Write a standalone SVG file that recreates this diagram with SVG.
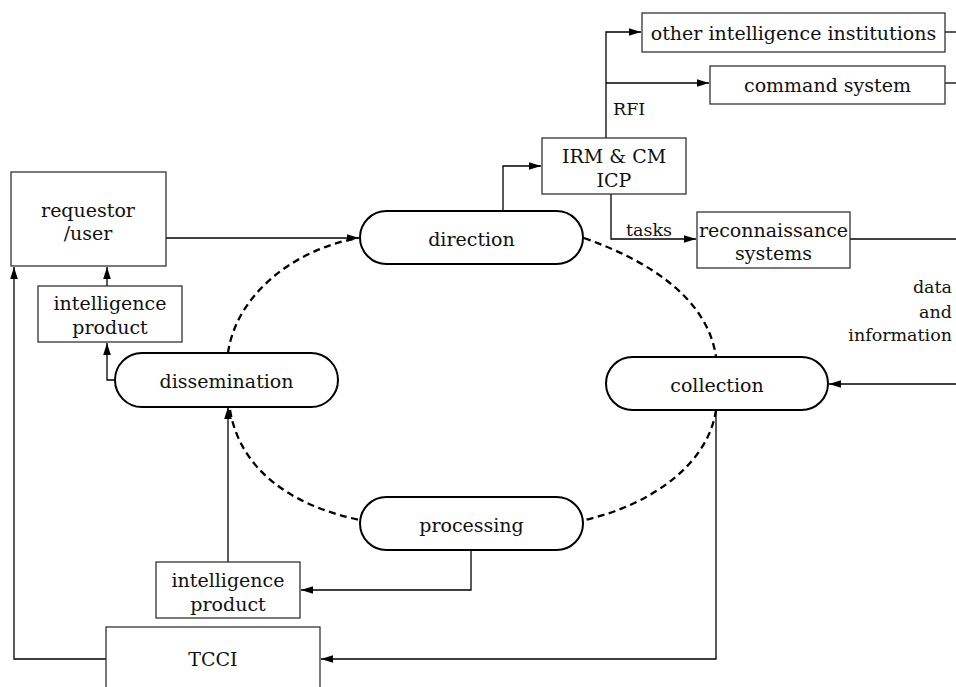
<svg xmlns="http://www.w3.org/2000/svg" width="956" height="687" viewBox="0 0 956 687">
<defs>
<marker id="arr" markerUnits="userSpaceOnUse" markerWidth="12" markerHeight="10" viewBox="0 0 12 10" refX="12" refY="5" orient="auto">
<path d="M0,1.2 L12,5 L0,8.8 Z" fill="#000"/>
</marker>
<style>
.box{fill:#fff;stroke:#333;stroke-width:1.3}
.pill{fill:#fff;stroke:#000;stroke-width:2}
.t{font-family:'DejaVu Serif','Liberation Serif',serif;font-size:19px;fill:#111;text-anchor:middle}
.l{font-family:'DejaVu Serif','Liberation Serif',serif;font-size:17.5px;fill:#111}
.c{fill:none;stroke:#000;stroke-width:1.3}
.d{fill:none;stroke:#000;stroke-width:2.3;stroke-dasharray:7 4.5}
</style>
</defs>
<rect width="956" height="687" fill="#fff"/>
<g id="cycle">
<path class="d" d="M228,353 C236,296 292,250 358,238"/>
<path class="d" d="M584,238 C652,262 708,300 716,357"/>
<path class="d" d="M716,410 C708,465 650,505 585,520"/>
<path class="d" d="M230,410 C240,470 292,506 360,520"/>
</g>
<g id="connectors">
<path class="c" d="M166,238 H359" marker-end="url(#arr)"/>
<path class="c" d="M503,211 V166 H541" marker-end="url(#arr)"/>
<path class="c" d="M606,138 V32 H641" marker-end="url(#arr)"/>
<path class="c" d="M606,83 H709" marker-end="url(#arr)"/>
<path class="c" d="M945,32 H956"/>
<path class="c" d="M945,83 H956"/>
<path class="c" d="M611,194 V239 H696" marker-end="url(#arr)"/>
<path class="c" d="M850,239 H956"/>
<path class="c" d="M956,384 H829" marker-end="url(#arr)"/>
<path class="c" d="M716,410 V659 H321" marker-end="url(#arr)"/>
<path class="c" d="M471,550 V590 H301" marker-end="url(#arr)"/>
<path class="c" d="M228,562 V407" marker-end="url(#arr)"/>
<path class="c" d="M115,380 H107 V343" marker-end="url(#arr)"/>
<path class="c" d="M107,286 V267" marker-end="url(#arr)"/>
<path class="c" d="M106,659 H14 V267" marker-end="url(#arr)"/>
</g>
<g id="other-intelligence-institutions">
<rect class="box" x="642" y="13" width="303" height="39"/>
<text class="t" x="793.5" y="40">other intelligence institutions</text>
</g>
<g id="command-system">
<rect class="box" x="710" y="66" width="235" height="38"/>
<text class="t" x="827.5" y="92">command system</text>
</g>
<g id="rfi-label">
<text class="l" x="613" y="115">RFI</text>
</g>
<g id="irm-cm-icp">
<rect class="box" x="542" y="138" width="144" height="56"/>
<text class="t" x="614" y="163">IRM &amp; CM</text>
<text class="t" x="614" y="187">ICP</text>
</g>
<g id="tasks-label">
<text class="l" x="626" y="236">tasks</text>
</g>
<g id="reconnaissance-systems">
<rect class="box" x="697" y="212" width="153" height="56"/>
<text class="t" x="773.5" y="237">reconnaissance</text>
<text class="t" x="773.5" y="260">systems</text>
</g>
<g id="requestor-user">
<rect class="box" x="11" y="172" width="155" height="94"/>
<text class="t" x="88" y="217">requestor</text>
<text class="t" x="88" y="240">/user</text>
</g>
<g id="direction">
<rect class="pill" x="360" y="211" width="223" height="53" rx="26.5"/>
<text class="t" x="471.5" y="246">direction</text>
</g>
<g id="intelligence-product-1">
<rect class="box" x="38" y="286" width="144" height="56"/>
<text class="t" x="110" y="310">intelligence</text>
<text class="t" x="110" y="334">product</text>
</g>
<g id="dissemination">
<rect class="pill" x="115" y="353" width="223" height="54" rx="27"/>
<text class="t" x="226.5" y="388">dissemination</text>
</g>
<g id="collection">
<rect class="pill" x="606" y="357" width="222" height="53" rx="26.5"/>
<text class="t" x="717" y="392">collection</text>
</g>
<g id="data-information-label">
<text class="l" x="952" y="293" text-anchor="end">data</text>
<text class="l" x="952" y="318" text-anchor="end">and</text>
<text class="l" x="952" y="341" text-anchor="end">information</text>
</g>
<g id="processing">
<rect class="pill" x="360" y="497" width="223" height="53" rx="26.5"/>
<text class="t" x="471.5" y="532">processing</text>
</g>
<g id="intelligence-product-2">
<rect class="box" x="156" y="562" width="144" height="56"/>
<text class="t" x="228" y="587">intelligence</text>
<text class="t" x="228" y="611">product</text>
</g>
<g id="tcci">
<rect class="box" x="106" y="627" width="214" height="70"/>
<text class="t" x="213" y="666">TCCI</text>
</g>
</svg>
